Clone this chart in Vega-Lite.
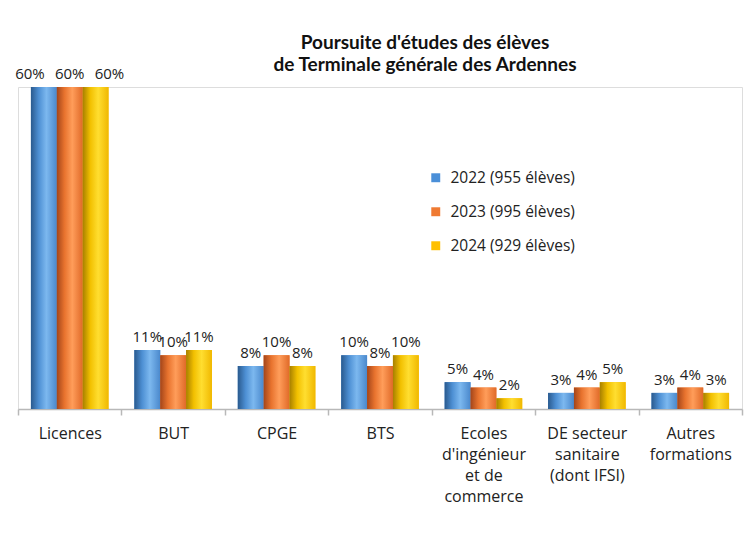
{
  "$schema": "https://vega.github.io/schema/vega-lite/v6.json",
  "autosize": {"type": "none"},
  "padding": {"left": 18, "top": 87, "right": 5, "bottom": 127},
  "width": 724,
  "height": 322,
  "background": "white",
  "title": {
    "text": ["Poursuite d'études des élèves", "de Terminale générale des Ardennes"],
    "font": "Lato",
    "fontSize": 19,
    "fontWeight": "bold",
    "color": "#111111",
    "anchor": "middle",
    "frame": "group",
    "dx": 45,
    "dy": 24,
    "offset": 16,
    "lineHeight": 22
  },
  "data": {
    "values": [
      {"formation": "Licences", "annee": "2022 (955 élèves)", "part": 0.60},
      {"formation": "Licences", "annee": "2023 (995 élèves)", "part": 0.60},
      {"formation": "Licences", "annee": "2024 (929 élèves)", "part": 0.60},
      {"formation": "BUT", "annee": "2022 (955 élèves)", "part": 0.11},
      {"formation": "BUT", "annee": "2023 (995 élèves)", "part": 0.10},
      {"formation": "BUT", "annee": "2024 (929 élèves)", "part": 0.11},
      {"formation": "CPGE", "annee": "2022 (955 élèves)", "part": 0.08},
      {"formation": "CPGE", "annee": "2023 (995 élèves)", "part": 0.10},
      {"formation": "CPGE", "annee": "2024 (929 élèves)", "part": 0.08},
      {"formation": "BTS", "annee": "2022 (955 élèves)", "part": 0.10},
      {"formation": "BTS", "annee": "2023 (995 élèves)", "part": 0.08},
      {"formation": "BTS", "annee": "2024 (929 élèves)", "part": 0.10},
      {"formation": "Ecoles d'ingénieur et de commerce", "annee": "2022 (955 élèves)", "part": 0.05},
      {"formation": "Ecoles d'ingénieur et de commerce", "annee": "2023 (995 élèves)", "part": 0.04},
      {"formation": "Ecoles d'ingénieur et de commerce", "annee": "2024 (929 élèves)", "part": 0.02},
      {"formation": "DE secteur sanitaire (dont IFSI)", "annee": "2022 (955 élèves)", "part": 0.03},
      {"formation": "DE secteur sanitaire (dont IFSI)", "annee": "2023 (995 élèves)", "part": 0.04},
      {"formation": "DE secteur sanitaire (dont IFSI)", "annee": "2024 (929 élèves)", "part": 0.05},
      {"formation": "Autres formations", "annee": "2022 (955 élèves)", "part": 0.03},
      {"formation": "Autres formations", "annee": "2023 (995 élèves)", "part": 0.04},
      {"formation": "Autres formations", "annee": "2024 (929 élèves)", "part": 0.03}
    ]
  },
  "resolve": {"scale": {"xOffset": "independent"}},
  "encoding": {
    "x": {
      "field": "formation",
      "type": "nominal",
      "title": null,
      "scale": {
        "domain": ["Licences", "BUT", "CPGE", "BTS", "Ecoles d'ingénieur et de commerce", "DE secteur sanitaire (dont IFSI)", "Autres formations"],
        "paddingInner": 0,
        "paddingOuter": 0
      },
      "axis": {
        "labelAngle": 0,
        "labelFont": "Open Sans",
        "labelFontSize": 16,
        "labelColor": "#222222",
        "labelLineHeight": 21,
        "labelPadding": 10,
        "labelExpr": "datum.value == \"Ecoles d'ingénieur et de commerce\" ? ['Ecoles', \"d'ingénieur\", 'et de', 'commerce'] : datum.value == 'DE secteur sanitaire (dont IFSI)' ? ['DE secteur', 'sanitaire', '(dont IFSI)'] : datum.value == 'Autres formations' ? ['Autres', 'formations'] : datum.value",
        "domainColor": "#b8b8b8",
        "domainWidth": 1.5,
        "tickColor": "#b8b8b8",
        "tickWidth": 1.5,
        "tickSize": 6,
        "tickBand": "extent",
        "grid": false
      }
    },
    "xOffset": {
      "field": "annee",
      "type": "nominal",
      "scale": {
        "type": "band",
        "domain": ["2022 (955 élèves)", "2023 (995 élèves)", "2024 (929 élèves)"],
        "paddingInner": 0,
        "paddingOuter": 0.5
      }
    },
    "y": {
      "field": "part",
      "type": "quantitative",
      "scale": {"domain": [0, 0.6], "nice": false},
      "axis": null
    }
  },
  "layer": [
    {
      "mark": {"type": "bar"},
      "encoding": {
        "color": {
          "field": "annee",
          "type": "nominal",
          "scale": {
            "domain": ["2022 (955 élèves)", "2023 (995 élèves)", "2024 (929 élèves)"],
            "range": ["#4a8fd8", "#ef7a32", "#ffc000"]
          },
          "legend": {
            "title": null,
            "orient": "none",
            "legendX": 410,
            "legendY": 83,
            "symbolType": "square",
            "symbolSize": 80,
            "symbolStrokeWidth": 0,
            "labelFont": "Open Sans",
            "labelFontSize": 15.5,
            "labelColor": "#222222",
            "rowPadding": 17,
            "labelOffset": 7
          }
        }
      }
    },
    {
      "transform": [{"filter": "datum.annee == '2022 (955 élèves)'"}],
      "mark": {
        "type": "bar",
        "color": {
          "gradient": "linear", "x1": 0, "x2": 1, "y1": 0, "y2": 0,
          "stops": [
            {"offset": 0, "color": "#2a5a8e"},
            {"offset": 0.3, "color": "#4d8fd3"},
            {"offset": 0.6, "color": "#7cb8ef"},
            {"offset": 1, "color": "#4a88cc"}
          ]
        }
      }
    },
    {
      "transform": [{"filter": "datum.annee == '2023 (995 élèves)'"}],
      "mark": {
        "type": "bar",
        "color": {
          "gradient": "linear", "x1": 0, "x2": 1, "y1": 0, "y2": 0,
          "stops": [
            {"offset": 0, "color": "#a3451a"},
            {"offset": 0.3, "color": "#e8732e"},
            {"offset": 0.6, "color": "#ff9d5a"},
            {"offset": 1, "color": "#e06a28"}
          ]
        }
      }
    },
    {
      "transform": [{"filter": "datum.annee == '2024 (929 élèves)'"}],
      "mark": {
        "type": "bar",
        "color": {
          "gradient": "linear", "x1": 0, "x2": 1, "y1": 0, "y2": 0,
          "stops": [
            {"offset": 0, "color": "#a77f00"},
            {"offset": 0.3, "color": "#f2c000"},
            {"offset": 0.6, "color": "#ffde30"},
            {"offset": 1, "color": "#f0b800"}
          ]
        }
      }
    },
    {
      "transform": [{"filter": "datum.formation != 'Licences'"}],
      "mark": {
        "type": "text",
        "baseline": "bottom",
        "dy": -5,
        "font": "Open Sans",
        "fontSize": 15,
        "color": "#222222"
      },
      "encoding": {
        "text": {"field": "part", "type": "quantitative", "format": ".0%"}
      }
    },
    {
      "transform": [{"filter": "datum.formation == 'Licences'"}],
      "mark": {
        "type": "text",
        "baseline": "bottom",
        "dy": -5,
        "font": "Open Sans",
        "fontSize": 15,
        "color": "#222222"
      },
      "encoding": {
        "xOffset": {
          "field": "annee",
          "type": "nominal",
          "scale": {
            "type": "point",
            "domain": ["2022 (955 élèves)", "2023 (995 élèves)", "2024 (929 élèves)"],
            "padding": 0.3
          }
        },
        "text": {"field": "part", "type": "quantitative", "format": ".0%"}
      }
    }
  ]
}
